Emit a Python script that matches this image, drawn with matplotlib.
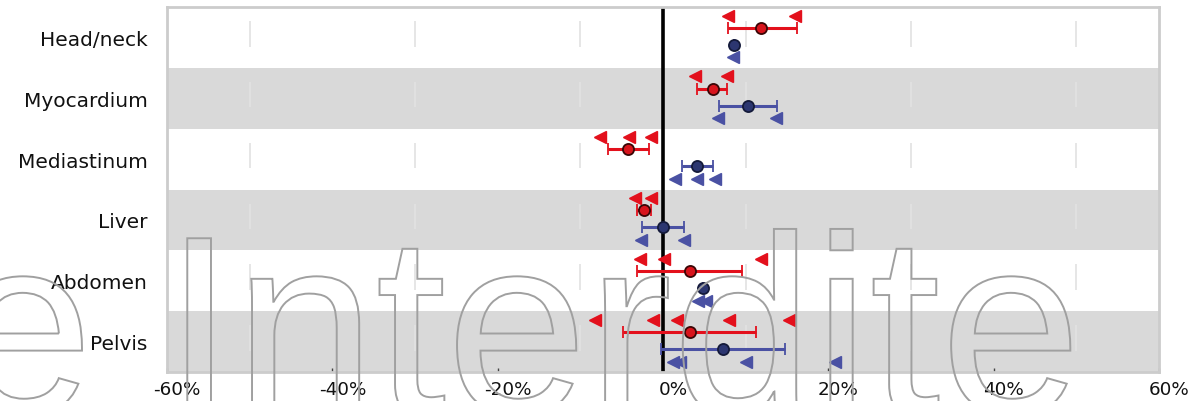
import matplotlib
matplotlib.use("Agg")
import matplotlib.pyplot as plt
from matplotlib.textpath import TextPath
from matplotlib.patches import PathPatch
from matplotlib.font_manager import FontProperties
from matplotlib.transforms import Affine2D, ScaledTranslation

regions = ["Head/neck", "Myocardium", "Mediastinum", "Liver", "Abdomen", "Pelvis"]

# red series: mean with range, and the individual values (%)
red_mean = [11.9, 6.0, -4.2, -2.3, 3.3, 3.3]
red_low = [7.9, 4.1, -6.7, -3.2, -3.1, -4.8]
red_high = [16.2, 7.7, -1.7, -1.4, 9.6, 11.2]
red_points = [[7.9, 16.0], [3.9, 7.7], [-7.6, -4.1, -1.45], [-3.4, -1.4],
              [-2.8, 0.1, 11.8], [-8.2, -1.25, 1.7, 8.0, 15.2]]

# blue series
blue_mean = [8.6, 10.3, 4.1, 0.0, 4.8, 7.2]
blue_low = [8.6, 6.8, 2.3, -2.5, 4.8, -0.2]
blue_high = [8.6, 13.8, 6.0, 2.5, 4.8, 14.8]
blue_points = [[8.5], [6.6, 13.7], [1.45, 4.1, 6.3], [-2.7, 2.5],
               [4.2, 5.2], [1.25, 2.1, 10.0, 20.8]]

xticks = [-60, -40, -20, 0, 20, 40, 60]
grid_x = [-50, -30, -10, 10, 30, 50]

RED = "#e3101c"
BLUE = "#4a51a3"

fig = plt.figure(figsize=(11.94, 4.02), dpi=100)
ax = fig.add_axes([0.1399, 0.0721, 0.8308, 0.908])

# alternating bands and short grid segments
for i in range(len(regions)):
    if i % 2 == 1:
        ax.axhspan(i - 0.5, i + 0.5, color="#d9d9d9", lw=0, zorder=0)
    ax.vlines(grid_x, i - 0.27, i + 0.15, color="#e2e2e2", lw=1.2, zorder=0.5)

ax.axvline(0, color="black", lw=2.6, zorder=2)

for i in range(len(regions)):
    # red: individual values above, summary below
    ax.plot(red_points[i], [i - 0.36] * len(red_points[i]), ls="none", marker="<",
            ms=8.5, color=RED, mec=RED, zorder=3)
    ax.errorbar([red_mean[i]], [i - 0.16],
                xerr=[[red_mean[i] - red_low[i]], [red_high[i] - red_mean[i]]],
                fmt="o", ms=8, mfc="#d8141c", mec="#3a0606", mew=1.3,
                ecolor=RED, elinewidth=2.2, capsize=4, capthick=1.6, zorder=4)
    # blue
    ax.errorbar([blue_mean[i]], [i + 0.12],
                xerr=[[blue_mean[i] - blue_low[i]], [blue_high[i] - blue_mean[i]]],
                fmt="o", ms=8, mfc="#2c3670", mec="#141a3a", mew=1.3,
                ecolor=BLUE, elinewidth=2.2, capsize=4, capthick=1.6, zorder=4)
    ax.plot(blue_points[i], [i + 0.33] * len(blue_points[i]), ls="none", marker="<",
            ms=8.5, color=BLUE, mec=BLUE, zorder=3)

ax.set_xlim(-60, 60)
ax.set_ylim(len(regions) - 0.5, -0.5)

ax.set_yticks(range(len(regions)))
ax.set_yticklabels(regions, fontsize=14.5, family="DejaVu Sans", color="#111111")
ax.tick_params(axis="y", length=0, pad=14)

ax.set_xticks(xticks)
ax.set_xticklabels([f"{v}%" for v in xticks], fontsize=13.2, family="DejaVu Sans",
                   color="#111111")
ax.tick_params(axis="x", direction="in", length=3, width=1, color="#444444", pad=6)
shift = ScaledTranslation(0.10, 0, fig.dpi_scale_trans)
for lab in ax.get_xticklabels():
    lab.set_transform(lab.get_transform() + shift)

for sp in ax.spines.values():
    sp.set_color("#cccccc")
    sp.set_linewidth(2)

# outlined watermark across the lower half
tp = TextPath((0, 0), "e Interdite", size=254, prop=FontProperties(family="Liberation Sans"))
mark = PathPatch(tp, facecolor="none", edgecolor="#a0a0a0", lw=1.4,
                 transform=Affine2D().translate(-48, -12), zorder=10)
fig.add_artist(mark)

fig.savefig("out.png", dpi=100, facecolor="white")
